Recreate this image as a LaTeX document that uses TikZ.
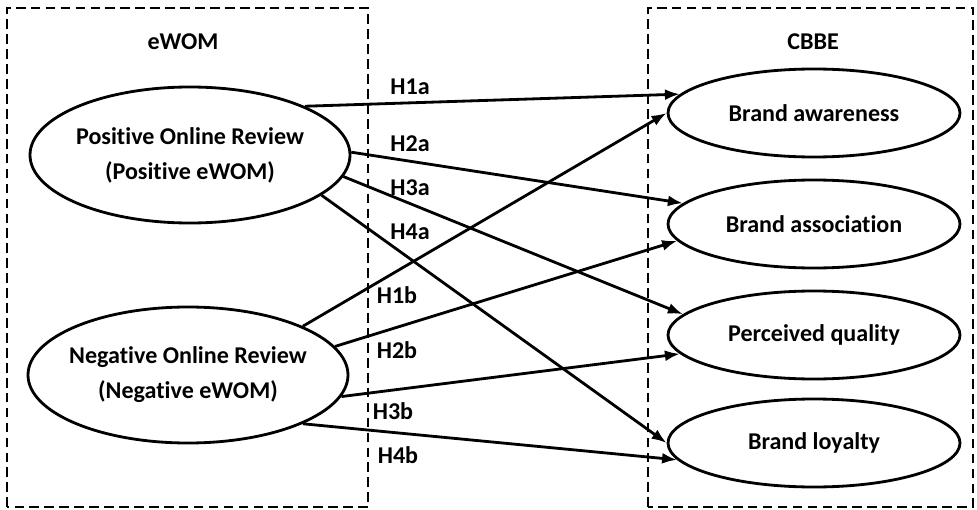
\documentclass[tikz,border=0pt]{standalone}
\usepackage{fontspec}
\setmainfont{Carlito}[Ligatures=NoCommon]
\usetikzlibrary{shapes.geometric}
\usetikzlibrary{arrows.meta}

\begin{document}
\begin{tikzpicture}[ewom node/.style={ellipse,draw,line width=1.6pt,inner ysep=0pt,inner xsep=-4mm,minimum width=6.4cm,minimum height=2.72cm,align=center,font=\bfseries\fontsize{13.7}{20}\selectfont},
    cbbe node/.style={ellipse,draw,line width=1.6pt,inner sep=0pt,minimum width=5.84cm,minimum height=1.76cm,font=\bfseries\fontsize{13.7}{20}\selectfont},
    group box/.style={draw,line width=1.2pt,dash pattern=on 5.5pt off 3pt},
    hyp/.style={font=\bfseries\fontsize{13.7}{20}\selectfont},
    path arrow/.style={-{Latex[length=3mm,width=2.2mm]},line width=1.6pt}]
    \useasboundingbox (0,0) rectangle (19.54,10.18);
    \draw[group box] (0.14,0.04) rectangle (7.36,10.02);
    \draw[group box] (12.96,0.04) rectangle (19.46,10.02);
    \node[hyp] (ewom) at (3.66,9.34) {eWOM};
    \node[hyp] (cbbe) at (16.26,9.34) {CBBE};

    \node[ewom node] (pos) at (3.8,7.08) {Positive Online Review\\(Positive eWOM)};
    \node[ewom node] (neg) at (3.76,2.68) {Negative Online Review\\(Negative eWOM)};

    \node[cbbe node] (aware) at (16.28,7.92) {Brand awareness};
    \node[cbbe node] (assoc) at (16.28,5.70) {Brand association};
    \node[cbbe node] (qual) at (16.28,3.48) {Perceived quality};
    \node[cbbe node] (loyal) at (16.28,1.32) {Brand loyalty};

    \draw[path arrow] (pos.23) -- (aware.172);
    \draw[path arrow] (pos.1) -- (assoc.171);
    \draw[path arrow] (pos.-8) -- (qual.171);
    \draw[path arrow] (pos.-17) -- (loyal.180);
    \draw[path arrow] (neg.23) -- (aware.180);
    \draw[path arrow] (neg.11) -- (assoc.187);
    \draw[path arrow] (neg.-8) -- (qual.188);
    \draw[path arrow] (neg.-23) -- (loyal.187);

    \node[hyp] (h1a) at (8.2,8.44) {H1a};
    \node[hyp] (h2a) at (8.2,7.3) {H2a};
    \node[hyp] (h3a) at (8.2,6.42) {H3a};
    \node[hyp] (h4a) at (8.2,5.54) {H4a};
    \node[hyp] (h1b) at (7.94,4.28) {H1b};
    \node[hyp] (h2b) at (7.94,3.18) {H2b};
    \node[hyp] (h3b) at (7.86,1.96) {H3b};
    \node[hyp] (h4b) at (7.96,1.08) {H4b};
  \end{tikzpicture}
\end{document}
